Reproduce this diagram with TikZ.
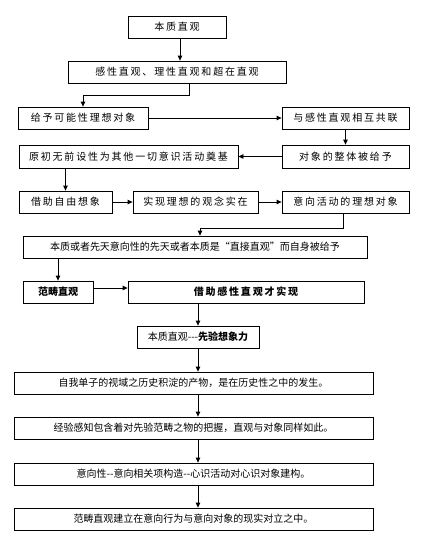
\documentclass[tikz,border=0pt]{standalone}
\usepackage{fontspec}
\setmainfont{Noto Sans CJK SC}
\newfontfamily\spaced[LetterSpace=18]{Noto Sans CJK SC}
\usetikzlibrary{arrows.meta}

\begin{document}
\begin{tikzpicture}[x=1pt,y=-1pt,
  box/.style={draw,line width=0.8pt,minimum height=22pt,inner sep=2pt,
              font=\fontsize{10}{12}\selectfont},
  wbox/.style={box,font=\fontsize{10}{12}\selectfont\spaced},
  arrow/.style={-{Triangle[length=5pt,width=4.5pt]},line width=0.8pt}
]
\useasboundingbox (0,0) rectangle (423,547);

\node[wbox,minimum width=98pt]  (n1)  at (177,27)    {本质直观};
\node[wbox,minimum width=218pt] (n2)  at (177,72)    {感性直观、理性直观和超在直观};
\node[wbox,minimum width=130pt] (n3)  at (83,118)    {给予可能性理想对象};
\node[wbox,minimum width=127pt] (n4)  at (345.5,118) {与感性直观相互共联};
\node[wbox,minimum width=219pt,minimum height=23pt] (n5) at (128.5,156.5) {原初无前设性为其他一切意识活动奠基};
\node[wbox,minimum width=127pt,minimum height=23pt] (n6) at (345.5,156.5) {对象的整体被给予};
\node[wbox,minimum width=93pt]  (n7)  at (65.5,202)  {借助自由想象};
\node[wbox,minimum width=125pt] (n8)  at (195.5,202) {实现理想的观念实在};
\node[wbox,minimum width=127pt] (n9)  at (345.5,202) {意向活动的理想对象};
\node[box,minimum width=344pt]  (n10) at (195,247)   {本质或者先天意向性的先天或者本质是“直接直观”而自身被给予};
\node[box,minimum width=70pt,font=\fontsize{10}{12}\selectfont\bfseries] (n11) at (58,292) {范畴直观};
\node[wbox,minimum width=236pt,font=\fontsize{10}{12}\selectfont\spaced\bfseries] (n12) at (246,292) {借助感性直观才实现};
\node[box,minimum width=122pt]  (n13) at (198,337)   {本质直观-{}-{}-\textbf{先验想象力}};
\node[box,minimum width=359pt]  (n14) at (193.5,383) {自我单子的视域之历史积淀的产物，是在历史性之中的发生。};
\node[box,minimum width=359pt]  (n15) at (193.5,428) {经验感知包含着对先验范畴之物的把握，直观与对象同样如此。};
\node[box,minimum width=359pt]  (n16) at (193.5,474) {意向性-{}-意向相关项构造-{}-心识活动对心识对象建构。};
\node[box,minimum width=359pt]  (n17) at (193.5,519) {范畴直观建立在意向行为与意向对象的现实对立之中。};

\draw[arrow] ([xshift=3pt]n1.south) -- ([xshift=3pt]n1.south |- n2.north);
\draw[arrow] ([xshift=12pt]n2.south) -- ++(0,12) -| (n3.north);
\draw[arrow] (n3) -- (n4);
\draw[arrow] (n4) -- (n6);
\draw[arrow] (n6) -- (n5);
\draw[arrow] (n7.north |- n5.south) -- (n7.north);
\draw[arrow] (n7) -- (n8);
\draw[arrow] (n8) -- (n9);
\draw[arrow] ([xshift=-2pt]n9.south) -- ++(0,15) -| ([xshift=5pt]n10.north);
\draw[arrow] (n11.north |- n10.south) -- (n11.north);
\draw[arrow] ([yshift=4pt]n11.east) -- ([yshift=4pt]n11.east -| n12.west);
\draw[arrow] (n13.north |- n12.south) -- (n13.north);
\draw[arrow] (n13.south) -- (n13.south |- n14.north);
\draw[arrow] ([xshift=4.5pt]n14.south) -- ([xshift=4.5pt]n15.north);
\draw[arrow] ([xshift=4.5pt]n15.south) -- ([xshift=4.5pt]n16.north);
\draw[arrow] ([xshift=4.5pt]n16.south) -- ([xshift=4.5pt]n17.north);
\end{tikzpicture}
\end{document}
